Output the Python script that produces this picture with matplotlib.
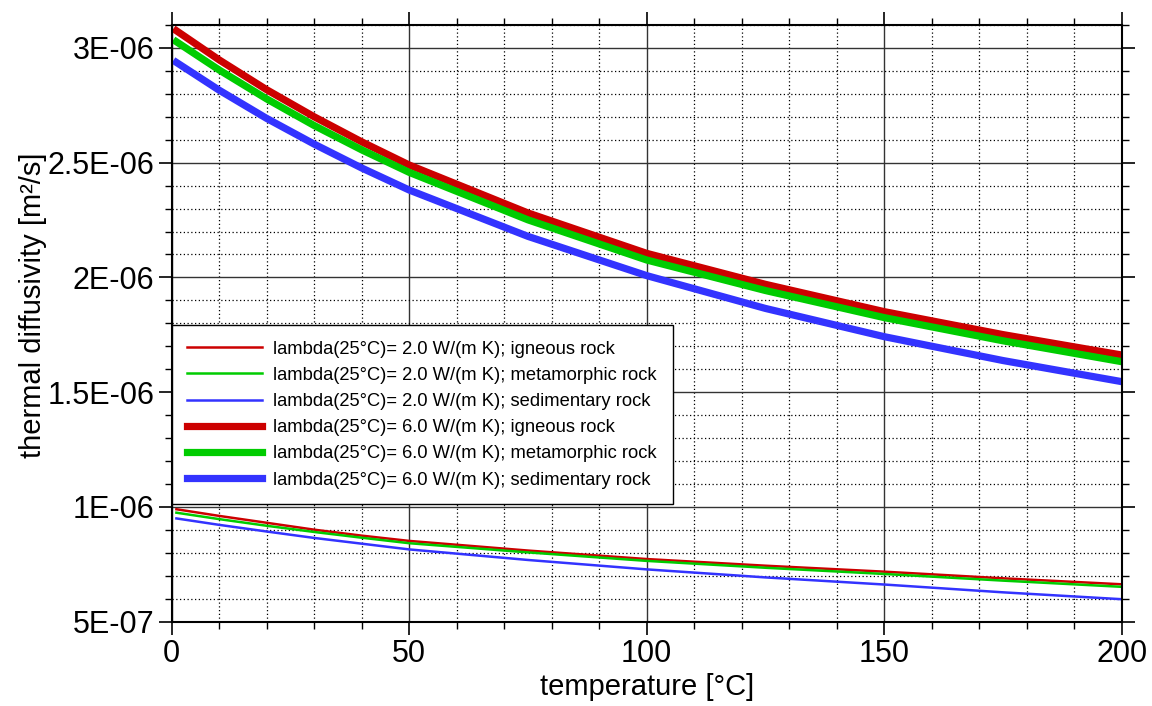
import numpy as np
import matplotlib.pyplot as plt
from matplotlib.ticker import MultipleLocator, FuncFormatter

plt.rcParams['font.family'] = ['Liberation Sans', 'DejaVu Sans']

# temperature [C]
temp = [1, 10, 20, 30, 40, 50, 75, 100, 125, 150, 175, 200]

# thermal diffusivity [m2/s], lambda(25C) = 2.0 W/(m K)
ign_2 = [9.90e-7, 9.61e-7, 9.31e-7, 9.01e-7, 8.75e-7, 8.52e-7, 8.10e-7, 7.73e-7, 7.44e-7, 7.18e-7, 6.89e-7, 6.63e-7]
met_2 = [9.75e-7, 9.47e-7, 9.18e-7, 8.91e-7, 8.66e-7, 8.42e-7, 8.02e-7, 7.65e-7, 7.35e-7, 7.08e-7, 6.79e-7, 6.52e-7]
sed_2 = [9.50e-7, 9.22e-7, 8.93e-7, 8.65e-7, 8.40e-7, 8.15e-7, 7.69e-7, 7.28e-7, 6.93e-7, 6.62e-7, 6.28e-7, 5.98e-7]

# lambda(25C) = 6.0 W/(m K)
ign_6 = [3.075e-6, 2.948e-6, 2.818e-6, 2.700e-6, 2.591e-6, 2.490e-6, 2.281e-6, 2.105e-6, 1.970e-6, 1.851e-6, 1.751e-6, 1.662e-6]
met_6 = [3.027e-6, 2.904e-6, 2.778e-6, 2.662e-6, 2.556e-6, 2.458e-6, 2.251e-6, 2.076e-6, 1.943e-6, 1.825e-6, 1.724e-6, 1.633e-6]
sed_6 = [2.937e-6, 2.816e-6, 2.693e-6, 2.581e-6, 2.477e-6, 2.381e-6, 2.179e-6, 2.008e-6, 1.865e-6, 1.742e-6, 1.638e-6, 1.546e-6]

red = '#cc0000'
green = '#00cc00'
blue = '#3333ff'

fig = plt.figure(figsize=(11.52, 7.06), dpi=100)
ax = fig.add_axes([0.149, 0.1194, 0.8247, 0.8452])

ax.plot(temp, ign_2, color=red, lw=1.8, label='lambda(25°C)= 2.0 W/(m K); igneous rock')
ax.plot(temp, met_2, color=green, lw=1.8, label='lambda(25°C)= 2.0 W/(m K); metamorphic rock')
ax.plot(temp, sed_2, color=blue, lw=1.8, label='lambda(25°C)= 2.0 W/(m K); sedimentary rock')
ax.plot(temp, ign_6, color=red, lw=5.2, label='lambda(25°C)= 6.0 W/(m K); igneous rock')
ax.plot(temp, met_6, color=green, lw=5.2, label='lambda(25°C)= 6.0 W/(m K); metamorphic rock')
ax.plot(temp, sed_6, color=blue, lw=5.2, label='lambda(25°C)= 6.0 W/(m K); sedimentary rock')

ax.set_xlim(0, 200)
ax.set_ylim(5e-7, 3.1e-6)
ax.xaxis.set_major_locator(MultipleLocator(50))
ax.xaxis.set_minor_locator(MultipleLocator(10))
ax.yaxis.set_major_locator(MultipleLocator(5e-7))
ax.yaxis.set_minor_locator(MultipleLocator(1e-7))
ax.yaxis.set_major_formatter(FuncFormatter(lambda v, p: '%G' % float('%.3g' % v)))

ax.grid(which='major', color='#333333', lw=1, ls='-')
ax.grid(which='minor', color='black', lw=0.9, ls=(0, (1, 2)))
ax.set_axisbelow(True)

ax.tick_params(which='both', direction='out', top=True, right=True, labelsize=22, color='black')
ax.tick_params(which='major', length=9.5, width=1.2, pad=3)
ax.tick_params(which='minor', length=5, width=1)
for s in ax.spines.values():
    s.set_linewidth(1.5)
    s.set_color('black')

ax.set_xlabel('temperature [°C]', fontsize=21, labelpad=3)
ax.set_ylabel('thermal diffusivity [m²/s]', fontsize=21)
ax.yaxis.set_label_coords(-0.131, 0.53)

leg = ax.legend(loc='upper left', bbox_to_anchor=(0.0, 0.497), borderaxespad=0,
                fontsize=13.2, handlelength=4.1, handletextpad=0.6, borderpad=0.85,
                labelspacing=0.5, fancybox=False, framealpha=1, edgecolor='black')
leg.get_frame().set_linewidth(1)

plt.savefig('out.png', dpi=100)
